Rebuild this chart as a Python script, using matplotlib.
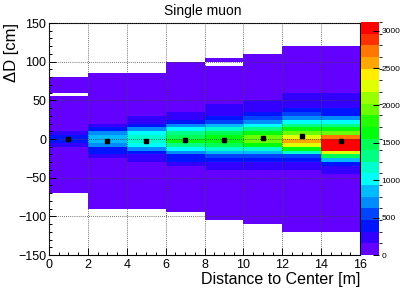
import colorsys
import numpy as np
import matplotlib
matplotlib.use('Agg')
import matplotlib.pyplot as plt
from matplotlib.colors import ListedColormap, BoundaryNorm
from matplotlib.ticker import MultipleLocator

plt.rcParams['font.family'] = ['Liberation Sans', 'DejaVu Sans']

# distance bins [m] and dD bins [cm]
x_edges = [0, 2, 4, 6, 8, 10, 12, 14, 16]
y_edges = np.arange(-150, 155, 5)

# lowest filled dD bin of each column (lower edge, cm)
col_bottom = [-70, -90, -90, -95, -105, -110, -120, -120]

# counts per 5 cm bin, read upwards from col_bottom
col1 = [14, 18, 22, 25, 30, 36, 44, 52, 63, 78, 96, 125,
        245, 410, 425, 260,
        130, 100, 80, 64, 52, 43, 36, 29, 24, 0, 17, 14, 11, 9]
col2 = [10, 12, 14, 17, 20, 24, 29, 35, 42, 52, 66, 85, 115,
        240, 380, 420, 690, 880, 850, 700, 400, 235,
        120, 90, 70, 55, 45, 37, 30, 25, 21, 18, 15, 12, 10]
col3 = [11, 13, 16, 19, 23, 28, 34, 42, 52, 66, 88, 130,
        220, 260, 400, 710, 1020, 1180, 1165, 1000, 700, 395, 250, 215,
        125, 92, 70, 55, 44, 36, 29, 24, 19, 15, 12]
col4 = [10, 12, 15, 18, 22, 27, 33, 41, 51, 64, 84, 125,
        235, 380, 400, 705, 1015, 1330, 1640, 1490, 1325, 1005, 690, 395, 245, 220,
        130, 95, 72, 57, 46, 38, 31, 26, 21, 17, 14, 11, 9]
col5 = [9, 11, 13, 16, 19, 23, 28, 34, 42, 52, 66, 88, 130,
        225, 240, 390, 550, 865, 1175, 1485, 1645, 1630, 1480, 1165, 855, 545, 385,
        240, 230, 215,
        125, 94, 72, 57, 46, 38, 31, 25, 20, 16, 0, 12]
col6 = [8, 10, 12, 14, 17, 20, 24, 29, 35, 43, 54, 70, 92, 135,
        225, 245, 390, 550, 860, 1170, 1640, 1955, 1945, 1635, 1320, 1010, 700, 545,
        390, 245, 230, 215,
        130, 98, 76, 60, 48, 39, 32, 26, 21, 17, 13, 10]
col7 = [7, 8, 10, 12, 14, 16, 19, 23, 27, 32, 39, 47, 58, 73, 95, 135,
        225, 245, 390, 550, 1170, 1640, 2265, 2575, 2260, 1950, 1635, 1320, 1010, 700,
        545, 390, 245, 235, 225, 215,
        135, 100, 78, 62, 50, 41, 34, 28, 23, 18, 14, 11]
col8 = [7, 8, 10, 12, 14, 17, 20, 24, 29, 35, 43, 54, 68, 90, 130,
        225, 245, 390, 860, 1480, 2260, 3050, 3115, 3060, 2725, 1950, 1635, 1320, 1010, 700,
        395, 385, 245, 235, 225, 215,
        135, 100, 78, 62, 50, 41, 34, 28, 23, 18, 14, 11]
columns = [col1, col2, col3, col4, col5, col6, col7, col8]

# profile (mean dD) per column
prof_x = [1, 3, 5, 7, 9, 11, 13, 15]
prof_y = [0.0, -2.2, -2.2, -1.7, -1.2, 0.9, 4.3, -2.2]

# fill 2D histogram
Z = np.zeros((len(y_edges) - 1, len(x_edges) - 1))
for i, (b, vals) in enumerate(zip(col_bottom, columns)):
    k0 = int((b - y_edges[0]) / 5)
    Z[k0:k0 + len(vals), i] = vals
Z = np.ma.masked_equal(Z, 0)

# ROOT "pretty" palette with 20 contours
ncont = 20
cols = []
for j in range(ncont):
    idx = int((j + 0.99) * 50 / ncont)
    hue = 0.0 if idx >= 49 else 280 - (idx + 1) * 5.6
    cols.append(colorsys.hls_to_rgb(hue / 360.0, 0.5, 1.0))
cmap = ListedColormap(cols)
zmax = Z.max()
norm = BoundaryNorm(np.linspace(0, zmax, ncont + 1), ncont)

fig = plt.figure(figsize=(4.05, 2.91), dpi=100)
ax = fig.add_axes([49 / 405, 36 / 291, 311 / 405, 232 / 291])
mesh = ax.pcolormesh(x_edges, y_edges, Z, cmap=cmap, norm=norm, zorder=1)
ax.plot(prof_x, prof_y, 's', color='black', ms=3, zorder=5)

ax.set_xlim(0, 16)
ax.set_ylim(-150, 150)
ax.xaxis.set_major_locator(MultipleLocator(2))
ax.xaxis.set_minor_locator(MultipleLocator(0.5))
ax.yaxis.set_major_locator(MultipleLocator(50))
ax.yaxis.set_minor_locator(MultipleLocator(10))
ax.tick_params(which='both', direction='in', top=False, right=False, labelsize=9)
ax.tick_params(which='major', length=5, width=0.7)
ax.tick_params(which='minor', length=2.5, width=0.7)
ax.tick_params(axis='x', pad=3)
ax.tick_params(axis='y', pad=2)
ax.set_axisbelow(False)
ax.grid(True, which='major', color='#444444', linestyle=(0, (1, 1.5)), linewidth=0.6)
for s in ax.spines.values():
    s.set_linewidth(0.8)

ax.set_xlabel('Distance to Center [m]', fontsize=11.5, loc='right')
ax.xaxis.set_label_coords(1.0, -0.072)
ax.set_ylabel('\u0394D [cm]', fontsize=12, loc='top')
ax.yaxis.set_label_coords(-0.097, 1.0)

fig.text(202.5 / 405, 1 - 15 / 291, 'Single muon', ha='center', va='baseline', fontsize=10)

cax = fig.add_axes([361 / 405, 36 / 291, 18 / 405, 233 / 291])
cb = fig.colorbar(mesh, cax=cax, ticks=[0, 500, 1000, 1500, 2000, 2500, 3000])
cb.outline.set_visible(False)
cax.tick_params(direction='in', length=4, width=0.7, labelsize=6, pad=2)
cax.set_yticklabels(['0', '500', '1000', '1500', '2000', '2500', '3000'])

fig.savefig('out.png', dpi=100)
